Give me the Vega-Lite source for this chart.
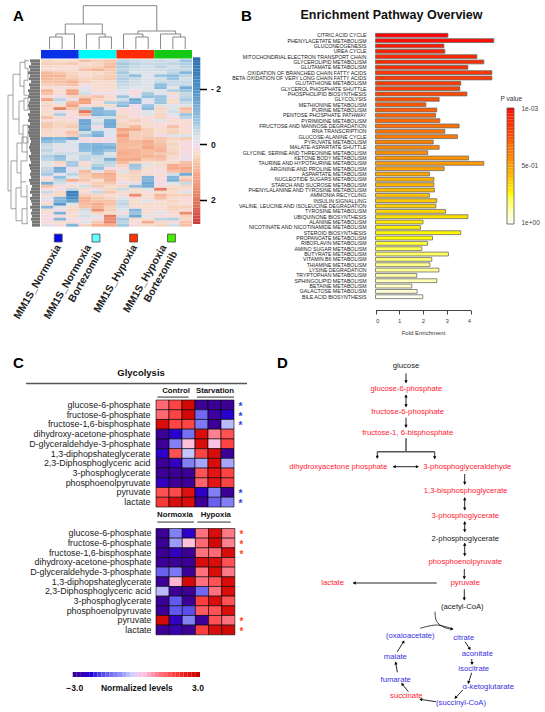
{"$schema":"https://vega.github.io/schema/vega-lite/v6.json","width":545,"height":712,"autosize":{"type":"none"},"padding":0,"background":"white",
"title":{"text":"Enrichment Pathway Overview","anchor":"middle","frame":"group","orient":"top","offset":-21,"dx":119,"fontSize":12.5,"fontWeight":"bold","font":"Liberation Sans","color":"#111"},
"config":{"font":"Liberation Sans","view":{"stroke":null},"axis":{"grid":false,"labelFont":"Liberation Sans","titleFont":"Liberation Sans"}},
"resolve":{"scale":{"x":"independent","y":"independent","color":"independent"}},
"datasets":{
"heatA":[
{"r":0,"c":1,"v":0.4},{"r":0,"c":2,"v":0.3},{"r":0,"c":3,"v":0.3},{"r":0,"c":4,"v":0.7},{"r":0,"c":5,"v":0.5},{"r":0,"c":6,"v":0.6},{"r":0,"c":7,"v":-0.6},{"r":0,"c":8,"v":-0.5},{"r":0,"c":9,"v":-0.4},{"r":0,"c":10,"v":-0.5},{"r":0,"c":11,"v":-0.4},{"r":0,"c":12,"v":-0.9},
{"r":1,"c":1,"v":0.5},{"r":1,"c":2,"v":0.5},{"r":1,"c":3,"v":0.6},{"r":1,"c":4,"v":0.3},{"r":1,"c":5,"v":0.4},{"r":1,"c":6,"v":0.7},{"r":1,"c":7,"v":-0.8},{"r":1,"c":8,"v":-0.6},{"r":1,"c":9,"v":-0.5},{"r":1,"c":10,"v":-0.5},{"r":1,"c":11,"v":-0.6},{"r":1,"c":12,"v":-0.7},
{"r":2,"c":1,"v":0.3},{"r":2,"c":2,"v":0.3},{"r":2,"c":3,"v":0.2},{"r":2,"c":4,"v":0.4},{"r":2,"c":5,"v":0.5},{"r":2,"c":6,"v":0.8},{"r":2,"c":7,"v":-0.7},{"r":2,"c":8,"v":-0.5},{"r":2,"c":9,"v":-0.4},{"r":2,"c":10,"v":-0.6},{"r":2,"c":11,"v":-0.4},{"r":2,"c":12,"v":-0.6},
{"r":3,"c":1,"v":0.2},{"r":3,"c":2,"v":0.2},{"r":3,"c":3,"v":0.3},{"r":3,"c":4,"v":0.7},{"r":3,"c":5,"v":0.9},{"r":3,"c":6,"v":0.6},{"r":3,"c":7,"v":-0.6},{"r":3,"c":8,"v":-0.4},{"r":3,"c":9,"v":-0.4},{"r":3,"c":10,"v":-0.4},{"r":3,"c":11,"v":-0.5},{"r":3,"c":12,"v":-0.5},
{"r":4,"c":1,"v":0.8},{"r":4,"c":2,"v":0.6},{"r":4,"c":3,"v":0.4},{"r":4,"c":4,"v":0.3},{"r":4,"c":5,"v":0.3},{"r":4,"c":6,"v":0.5},{"r":4,"c":7,"v":-0.8},{"r":4,"c":8,"v":-0.3},{"r":4,"c":9,"v":-0.3},{"r":4,"c":10,"v":-0.3},{"r":4,"c":11,"v":-0.6},{"r":4,"c":12,"v":-1.2},
{"r":5,"c":1,"v":0.9},{"r":5,"c":2,"v":0.9},{"r":5,"c":3,"v":0.5},{"r":5,"c":4,"v":0.2},{"r":5,"c":5,"v":0.4},{"r":5,"c":6,"v":0.5},{"r":5,"c":7,"v":-0.6},{"r":5,"c":8,"v":-1},{"r":5,"c":9,"v":-0.2},{"r":5,"c":10,"v":-0.9},{"r":5,"c":11,"v":-1},{"r":5,"c":12,"v":-0.6},
{"r":6,"c":1,"v":0.8},{"r":6,"c":2,"v":0.7},{"r":6,"c":3,"v":0.6},{"r":6,"c":4,"v":0.4},{"r":6,"c":5,"v":0.5},{"r":6,"c":6,"v":0.6},{"r":6,"c":7,"v":-0.7},{"r":6,"c":8,"v":-0.5},{"r":6,"c":9,"v":-0.2},{"r":6,"c":10,"v":-0.4},{"r":6,"c":11,"v":-0.9},{"r":6,"c":12,"v":-0.4},
{"r":7,"c":1,"v":0.7},{"r":7,"c":2,"v":0.7},{"r":7,"c":3,"v":0.9},{"r":7,"c":4,"v":0.5},{"r":7,"c":5,"v":0.3},{"r":7,"c":6,"v":0.3},{"r":7,"c":7,"v":-0.6},{"r":7,"c":8,"v":-0.4},{"r":7,"c":9,"v":-0.3},{"r":7,"c":10,"v":-0.5},{"r":7,"c":11,"v":-0.5},{"r":7,"c":12,"v":-0.5},
{"r":8,"c":1,"v":0.5},{"r":8,"c":2,"v":0.6},{"r":8,"c":3,"v":0.7},{"r":8,"c":4,"v":0.1},{"r":8,"c":5,"v":0.3},{"r":8,"c":6,"v":0.3},{"r":8,"c":7,"v":-0.5},{"r":8,"c":8,"v":-0.4},{"r":8,"c":9,"v":-0.3},{"r":8,"c":10,"v":-1},{"r":8,"c":11,"v":-0.5},{"r":8,"c":12,"v":-0.5},
{"r":9,"c":1,"v":0.2},{"r":9,"c":2,"v":0.1},{"r":9,"c":3,"v":0.3},{"r":9,"c":4,"v":-0.1},{"r":9,"c":5,"v":0.3},{"r":9,"c":6,"v":0.3},{"r":9,"c":7,"v":-0.4},{"r":9,"c":8,"v":-0.2},{"r":9,"c":9,"v":-0.3},{"r":9,"c":10,"v":-1.1},{"r":9,"c":11,"v":-0.3},{"r":9,"c":12,"v":-1.4},
{"r":10,"c":1,"v":0.9},{"r":10,"c":2,"v":0.3},{"r":10,"c":3,"v":1.1},{"r":10,"c":4,"v":-0.3},{"r":10,"c":5,"v":0.2},{"r":10,"c":6,"v":0.2},{"r":10,"c":7,"v":-0.2},{"r":10,"c":8,"v":0.1},{"r":10,"c":9,"v":-0.3},{"r":10,"c":10,"v":-0.3},{"r":10,"c":11,"v":-0.7},{"r":10,"c":12,"v":-0.9},
{"r":11,"c":1,"v":0.7},{"r":11,"c":2,"v":0.2},{"r":11,"c":3,"v":1.2},{"r":11,"c":4,"v":-0.4},{"r":11,"c":5,"v":0},{"r":11,"c":6,"v":0.1},{"r":11,"c":7,"v":-0.1},{"r":11,"c":8,"v":0.2},{"r":11,"c":9,"v":-0.8},{"r":11,"c":10,"v":-0.2},{"r":11,"c":11,"v":0.3},{"r":11,"c":12,"v":-0.5},
{"r":12,"c":1,"v":0.2},{"r":12,"c":2,"v":0},{"r":12,"c":3,"v":0.4},{"r":12,"c":4,"v":0.5},{"r":12,"c":5,"v":0.7},{"r":12,"c":6,"v":0.3},{"r":12,"c":7,"v":-0.9},{"r":12,"c":8,"v":-0.1},{"r":12,"c":9,"v":-1},{"r":12,"c":10,"v":-0.9},{"r":12,"c":11,"v":0},{"r":12,"c":12,"v":-0.6},
{"r":13,"c":1,"v":1.2},{"r":13,"c":2,"v":-0.6},{"r":13,"c":3,"v":0},{"r":13,"c":4,"v":1.3},{"r":13,"c":5,"v":0.4},{"r":13,"c":6,"v":0.3},{"r":13,"c":7,"v":-0.4},{"r":13,"c":8,"v":-1.4},{"r":13,"c":9,"v":-0.2},{"r":13,"c":10,"v":-0.9},{"r":13,"c":11,"v":0.3},{"r":13,"c":12,"v":-0.8},
{"r":14,"c":1,"v":0.3},{"r":14,"c":2,"v":-0.3},{"r":14,"c":3,"v":0.9},{"r":14,"c":4,"v":1.2},{"r":14,"c":5,"v":0.2},{"r":14,"c":6,"v":-0.7},{"r":14,"c":7,"v":-0.9},{"r":14,"c":8,"v":-1.3},{"r":14,"c":9,"v":-0.1},{"r":14,"c":10,"v":-0.9},{"r":14,"c":11,"v":0.3},{"r":14,"c":12,"v":-0.5},
{"r":15,"c":1,"v":0.4},{"r":15,"c":2,"v":0.3},{"r":15,"c":3,"v":1.2},{"r":15,"c":4,"v":0.2},{"r":15,"c":5,"v":0.3},{"r":15,"c":6,"v":0.3},{"r":15,"c":7,"v":-1.1},{"r":15,"c":8,"v":0},{"r":15,"c":9,"v":-0.9},{"r":15,"c":10,"v":-0.3},{"r":15,"c":11,"v":-0.2},{"r":15,"c":12,"v":-0.3},
{"r":16,"c":1,"v":0.2},{"r":16,"c":2,"v":1.8},{"r":16,"c":3,"v":0.6},{"r":16,"c":4,"v":-0.7},{"r":16,"c":5,"v":-1.2},{"r":16,"c":6,"v":-0.2},{"r":16,"c":7,"v":0.2},{"r":16,"c":8,"v":0.1},{"r":16,"c":9,"v":-1.1},{"r":16,"c":10,"v":0.4},{"r":16,"c":11,"v":-0.3},{"r":16,"c":12,"v":0.8},
{"r":17,"c":1,"v":0.3},{"r":17,"c":2,"v":0},{"r":17,"c":3,"v":0.2},{"r":17,"c":4,"v":2},{"r":17,"c":5,"v":-1.2},{"r":17,"c":6,"v":-1},{"r":17,"c":7,"v":0.2},{"r":17,"c":8,"v":0.2},{"r":17,"c":9,"v":-0.2},{"r":17,"c":10,"v":0.3},{"r":17,"c":11,"v":-0.4},{"r":17,"c":12,"v":0.6},
{"r":18,"c":1,"v":0.3},{"r":18,"c":2,"v":-0.7},{"r":18,"c":3,"v":0.2},{"r":18,"c":4,"v":0.8},{"r":18,"c":5,"v":-1.3},{"r":18,"c":6,"v":-1.1},{"r":18,"c":7,"v":0.3},{"r":18,"c":8,"v":0.1},{"r":18,"c":9,"v":-0.2},{"r":18,"c":10,"v":0.4},{"r":18,"c":11,"v":-0.2},{"r":18,"c":12,"v":-0.9},
{"r":19,"c":1,"v":0.7},{"r":19,"c":2,"v":0.2},{"r":19,"c":3,"v":0.1},{"r":19,"c":4,"v":0.1},{"r":19,"c":5,"v":-0.4},{"r":19,"c":6,"v":-0.4},{"r":19,"c":7,"v":0.4},{"r":19,"c":8,"v":0.2},{"r":19,"c":9,"v":0.2},{"r":19,"c":10,"v":0.4},{"r":19,"c":11,"v":0.1},{"r":19,"c":12,"v":-0.6},
{"r":20,"c":1,"v":0.2},{"r":20,"c":2,"v":0.3},{"r":20,"c":3,"v":0.2},{"r":20,"c":4,"v":-1.5},{"r":20,"c":5,"v":-0.3},{"r":20,"c":6,"v":-1.4},{"r":20,"c":7,"v":0.2},{"r":20,"c":8,"v":0.5},{"r":20,"c":9,"v":0.2},{"r":20,"c":10,"v":-0.2},{"r":20,"c":11,"v":0.3},{"r":20,"c":12,"v":0.2},
{"r":21,"c":1,"v":0.6},{"r":21,"c":2,"v":0.4},{"r":21,"c":3,"v":0.4},{"r":21,"c":4,"v":-1.5},{"r":21,"c":5,"v":-0.5},{"r":21,"c":6,"v":-1.5},{"r":21,"c":7,"v":0.4},{"r":21,"c":8,"v":0.3},{"r":21,"c":9,"v":0.3},{"r":21,"c":10,"v":0.2},{"r":21,"c":11,"v":0.2},{"r":21,"c":12,"v":0.3},
{"r":22,"c":1,"v":0.6},{"r":22,"c":2,"v":0.4},{"r":22,"c":3,"v":0.6},{"r":22,"c":4,"v":-1.3},{"r":22,"c":5,"v":0.1},{"r":22,"c":6,"v":-1.4},{"r":22,"c":7,"v":0.4},{"r":22,"c":8,"v":0.8},{"r":22,"c":9,"v":0.3},{"r":22,"c":10,"v":0.2},{"r":22,"c":11,"v":0.7},{"r":22,"c":12,"v":0.2},
{"r":23,"c":1,"v":0.4},{"r":23,"c":2,"v":0.3},{"r":23,"c":3,"v":0.3},{"r":23,"c":4,"v":-1.5},{"r":23,"c":5,"v":-0.3},{"r":23,"c":6,"v":-0.2},{"r":23,"c":7,"v":1.1},{"r":23,"c":8,"v":1},{"r":23,"c":9,"v":0.5},{"r":23,"c":10,"v":0.3},{"r":23,"c":11,"v":0.4},{"r":23,"c":12,"v":0.2},
{"r":24,"c":1,"v":0.3},{"r":24,"c":2,"v":0.2},{"r":24,"c":3,"v":0.7},{"r":24,"c":4,"v":-0.4},{"r":24,"c":5,"v":-1.1},{"r":24,"c":6,"v":-0.2},{"r":24,"c":7,"v":0.9},{"r":24,"c":8,"v":0.5},{"r":24,"c":9,"v":0.5},{"r":24,"c":10,"v":0.3},{"r":24,"c":11,"v":0.5},{"r":24,"c":12,"v":0.3},
{"r":25,"c":1,"v":0.3},{"r":25,"c":2,"v":0.3},{"r":25,"c":3,"v":0.5},{"r":25,"c":4,"v":-0.8},{"r":25,"c":5,"v":-1.3},{"r":25,"c":6,"v":-0.1},{"r":25,"c":7,"v":1.3},{"r":25,"c":8,"v":0.5},{"r":25,"c":9,"v":0.5},{"r":25,"c":10,"v":0.1},{"r":25,"c":11,"v":-0.2},{"r":25,"c":12,"v":-0.2},
{"r":26,"c":1,"v":-1.3},{"r":26,"c":2,"v":-1.2},{"r":26,"c":3,"v":-1.5},{"r":26,"c":4,"v":0.2},{"r":26,"c":5,"v":0.1},{"r":26,"c":6,"v":0},{"r":26,"c":7,"v":0.9},{"r":26,"c":8,"v":0.5},{"r":26,"c":9,"v":0.6},{"r":26,"c":10,"v":0.6},{"r":26,"c":11,"v":0.4},{"r":26,"c":12,"v":0.5},
{"r":27,"c":1,"v":-1},{"r":27,"c":2,"v":-0.9},{"r":27,"c":3,"v":-0.3},{"r":27,"c":4,"v":0},{"r":27,"c":5,"v":0.1},{"r":27,"c":6,"v":0},{"r":27,"c":7,"v":0.9},{"r":27,"c":8,"v":0.8},{"r":27,"c":9,"v":1},{"r":27,"c":10,"v":0.6},{"r":27,"c":11,"v":0.3},{"r":27,"c":12,"v":0.2},
{"r":28,"c":1,"v":-0.5},{"r":28,"c":2,"v":-0.3},{"r":28,"c":3,"v":-0.2},{"r":28,"c":4,"v":-1.1},{"r":28,"c":5,"v":-1.2},{"r":28,"c":6,"v":-1},{"r":28,"c":7,"v":0.8},{"r":28,"c":8,"v":0.8},{"r":28,"c":9,"v":0.9},{"r":28,"c":10,"v":0.7},{"r":28,"c":11,"v":0.4},{"r":28,"c":12,"v":0.1},
{"r":29,"c":1,"v":-0.4},{"r":29,"c":2,"v":-0.2},{"r":29,"c":3,"v":-0.3},{"r":29,"c":4,"v":-1.1},{"r":29,"c":5,"v":-1.3},{"r":29,"c":6,"v":-1.3},{"r":29,"c":7,"v":0.8},{"r":29,"c":8,"v":0.7},{"r":29,"c":9,"v":1.1},{"r":29,"c":10,"v":0.8},{"r":29,"c":11,"v":0.3},{"r":29,"c":12,"v":0.2},
{"r":30,"c":1,"v":-0.6},{"r":30,"c":2,"v":-0.1},{"r":30,"c":3,"v":-0.1},{"r":30,"c":4,"v":-1},{"r":30,"c":5,"v":-1.2},{"r":30,"c":6,"v":-0.9},{"r":30,"c":7,"v":0.9},{"r":30,"c":8,"v":0.9},{"r":30,"c":9,"v":0.8},{"r":30,"c":10,"v":0.9},{"r":30,"c":11,"v":0.4},{"r":30,"c":12,"v":0.1},
{"r":31,"c":1,"v":-0.4},{"r":31,"c":2,"v":-0.4},{"r":31,"c":3,"v":-0.4},{"r":31,"c":4,"v":-0.4},{"r":31,"c":5,"v":-1},{"r":31,"c":6,"v":-0.3},{"r":31,"c":7,"v":1},{"r":31,"c":8,"v":0.9},{"r":31,"c":9,"v":0.8},{"r":31,"c":10,"v":0.6},{"r":31,"c":11,"v":0.5},{"r":31,"c":12,"v":0.1},
{"r":32,"c":1,"v":-0.7},{"r":32,"c":2,"v":-1},{"r":32,"c":3,"v":-0.3},{"r":32,"c":4,"v":-0.6},{"r":32,"c":5,"v":-0.5},{"r":32,"c":6,"v":-0.4},{"r":32,"c":7,"v":0.9},{"r":32,"c":8,"v":0.9},{"r":32,"c":9,"v":0.9},{"r":32,"c":10,"v":0.8},{"r":32,"c":11,"v":0.3},{"r":32,"c":12,"v":0.1},
{"r":33,"c":1,"v":-0.6},{"r":33,"c":2,"v":-0.9},{"r":33,"c":3,"v":-0.3},{"r":33,"c":4,"v":-0.6},{"r":33,"c":5,"v":-0.4},{"r":33,"c":6,"v":-1.3},{"r":33,"c":7,"v":1},{"r":33,"c":8,"v":1.1},{"r":33,"c":9,"v":0.6},{"r":33,"c":10,"v":0.7},{"r":33,"c":11,"v":0.2},{"r":33,"c":12,"v":0},
{"r":34,"c":1,"v":-0.3},{"r":34,"c":2,"v":0.4},{"r":34,"c":3,"v":-0.8},{"r":34,"c":4,"v":0.2},{"r":34,"c":5,"v":-0.4},{"r":34,"c":6,"v":-0.6},{"r":34,"c":7,"v":0.8},{"r":34,"c":8,"v":0.4},{"r":34,"c":9,"v":0.3},{"r":34,"c":10,"v":0.3},{"r":34,"c":11,"v":0.3},{"r":34,"c":12,"v":0.7},
{"r":35,"c":1,"v":-0.3},{"r":35,"c":2,"v":0.2},{"r":35,"c":3,"v":-0.8},{"r":35,"c":4,"v":0.3},{"r":35,"c":5,"v":-0.7},{"r":35,"c":6,"v":-0.5},{"r":35,"c":7,"v":0.4},{"r":35,"c":8,"v":-0.9},{"r":35,"c":9,"v":-0.3},{"r":35,"c":10,"v":0.3},{"r":35,"c":11,"v":1},{"r":35,"c":12,"v":0.8},
{"r":36,"c":1,"v":-0.5},{"r":36,"c":2,"v":-1.4},{"r":36,"c":3,"v":0},{"r":36,"c":4,"v":-0.3},{"r":36,"c":5,"v":-1},{"r":36,"c":6,"v":0.1},{"r":36,"c":7,"v":0.2},{"r":36,"c":8,"v":-0.8},{"r":36,"c":9,"v":0.3},{"r":36,"c":10,"v":0.2},{"r":36,"c":11,"v":1},{"r":36,"c":12,"v":1.1},
{"r":37,"c":1,"v":-0.6},{"r":37,"c":2,"v":-1.3},{"r":37,"c":3,"v":-0.2},{"r":37,"c":4,"v":0.8},{"r":37,"c":5,"v":-0.3},{"r":37,"c":6,"v":0.7},{"r":37,"c":7,"v":-0.3},{"r":37,"c":8,"v":0.5},{"r":37,"c":9,"v":0.2},{"r":37,"c":10,"v":0.1},{"r":37,"c":11,"v":0.7},{"r":37,"c":12,"v":0.9},
{"r":38,"c":1,"v":-0.8},{"r":38,"c":2,"v":-0.1},{"r":38,"c":3,"v":-0.6},{"r":38,"c":4,"v":0.6},{"r":38,"c":5,"v":0.9},{"r":38,"c":6,"v":1},{"r":38,"c":7,"v":0.3},{"r":38,"c":8,"v":0.4},{"r":38,"c":9,"v":0.3},{"r":38,"c":10,"v":0.3},{"r":38,"c":11,"v":-0.4},{"r":38,"c":12,"v":-1.4},
{"r":39,"c":1,"v":0.1},{"r":39,"c":2,"v":-1},{"r":39,"c":3,"v":-0.3},{"r":39,"c":4,"v":0.5},{"r":39,"c":5,"v":0.8},{"r":39,"c":6,"v":0.9},{"r":39,"c":7,"v":0.3},{"r":39,"c":8,"v":0.4},{"r":39,"c":9,"v":-1.2},{"r":39,"c":10,"v":0.1},{"r":39,"c":11,"v":-1.2},{"r":39,"c":12,"v":0.4},
{"r":40,"c":1,"v":0.3},{"r":40,"c":2,"v":-0.6},{"r":40,"c":3,"v":1},{"r":40,"c":4,"v":0.6},{"r":40,"c":5,"v":0.3},{"r":40,"c":6,"v":0.9},{"r":40,"c":7,"v":0.2},{"r":40,"c":8,"v":0.4},{"r":40,"c":9,"v":-1.2},{"r":40,"c":10,"v":0.2},{"r":40,"c":11,"v":-1.3},{"r":40,"c":12,"v":0.7},
{"r":41,"c":1,"v":-1.3},{"r":41,"c":2,"v":-0.4},{"r":41,"c":3,"v":0},{"r":41,"c":4,"v":0.2},{"r":41,"c":5,"v":0.5},{"r":41,"c":6,"v":0.6},{"r":41,"c":7,"v":0},{"r":41,"c":8,"v":0},{"r":41,"c":9,"v":-1.5},{"r":41,"c":10,"v":0},{"r":41,"c":11,"v":-0.3},{"r":41,"c":12,"v":-0.5},
{"r":42,"c":1,"v":0.7},{"r":42,"c":2,"v":0.2},{"r":42,"c":3,"v":0.3},{"r":42,"c":4,"v":-0.4},{"r":42,"c":5,"v":0.6},{"r":42,"c":6,"v":0.3},{"r":42,"c":7,"v":0.4},{"r":42,"c":8,"v":-1},{"r":42,"c":9,"v":-1.4},{"r":42,"c":10,"v":0.1},{"r":42,"c":11,"v":0.3},{"r":42,"c":12,"v":0.4},
{"r":43,"c":1,"v":0.2},{"r":43,"c":2,"v":0},{"r":43,"c":3,"v":-0.5},{"r":43,"c":4,"v":0.3},{"r":43,"c":5,"v":0},{"r":43,"c":6,"v":0.4},{"r":43,"c":7,"v":-0.5},{"r":43,"c":8,"v":0.3},{"r":43,"c":9,"v":-0.3},{"r":43,"c":10,"v":1.9},{"r":43,"c":11,"v":0.4},{"r":43,"c":12,"v":0.2},
{"r":44,"c":1,"v":-0.5},{"r":44,"c":2,"v":0.4},{"r":44,"c":3,"v":-2.6},{"r":44,"c":4,"v":0.2},{"r":44,"c":5,"v":-0.5},{"r":44,"c":6,"v":0.6},{"r":44,"c":7,"v":0.3},{"r":44,"c":8,"v":0.3},{"r":44,"c":9,"v":0.2},{"r":44,"c":10,"v":0.3},{"r":44,"c":11,"v":0.3},{"r":44,"c":12,"v":-0.2},
{"r":45,"c":1,"v":0.2},{"r":45,"c":2,"v":0.3},{"r":45,"c":3,"v":-2.4},{"r":45,"c":4,"v":0.5},{"r":45,"c":5,"v":0.4},{"r":45,"c":6,"v":0.2},{"r":45,"c":7,"v":0.2},{"r":45,"c":8,"v":1.6},{"r":45,"c":9,"v":0.3},{"r":45,"c":10,"v":0.9},{"r":45,"c":11,"v":0.5},{"r":45,"c":12,"v":0.5},
{"r":46,"c":1,"v":-0.2},{"r":46,"c":2,"v":-1.2},{"r":46,"c":3,"v":-2},{"r":46,"c":4,"v":0.9},{"r":46,"c":5,"v":0.6},{"r":46,"c":6,"v":0.4},{"r":46,"c":7,"v":-0.3},{"r":46,"c":8,"v":0.2},{"r":46,"c":9,"v":0.2},{"r":46,"c":10,"v":0.7},{"r":46,"c":11,"v":0.3},{"r":46,"c":12,"v":0.2},
{"r":47,"c":1,"v":0.1},{"r":47,"c":2,"v":-1.2},{"r":47,"c":3,"v":-1.6},{"r":47,"c":4,"v":0.9},{"r":47,"c":5,"v":0.7},{"r":47,"c":6,"v":0.7},{"r":47,"c":7,"v":-0.5},{"r":47,"c":8,"v":0.3},{"r":47,"c":9,"v":-0.2},{"r":47,"c":10,"v":0.2},{"r":47,"c":11,"v":0.4},{"r":47,"c":12,"v":0.2},
{"r":48,"c":1,"v":0.3},{"r":48,"c":2,"v":-1.8},{"r":48,"c":3,"v":-0.3},{"r":48,"c":4,"v":0.8},{"r":48,"c":5,"v":1},{"r":48,"c":6,"v":0.7},{"r":48,"c":7,"v":-0.6},{"r":48,"c":8,"v":0.3},{"r":48,"c":9,"v":0.3},{"r":48,"c":10,"v":0.3},{"r":48,"c":11,"v":0.3},{"r":48,"c":12,"v":0.2},
{"r":49,"c":1,"v":-1.2},{"r":49,"c":2,"v":-0.2},{"r":49,"c":3,"v":0.3},{"r":49,"c":4,"v":0.7},{"r":49,"c":5,"v":0.9},{"r":49,"c":6,"v":0.5},{"r":49,"c":7,"v":-0.4},{"r":49,"c":8,"v":0.2},{"r":49,"c":9,"v":0.3},{"r":49,"c":10,"v":0.2},{"r":49,"c":11,"v":0.5},{"r":49,"c":12,"v":0.5},
{"r":50,"c":1,"v":0.3},{"r":50,"c":2,"v":0.1},{"r":50,"c":3,"v":0.4},{"r":50,"c":4,"v":-0.4},{"r":50,"c":5,"v":1.5},{"r":50,"c":6,"v":0.5},{"r":50,"c":7,"v":-0.3},{"r":50,"c":8,"v":-1.2},{"r":50,"c":9,"v":0.2},{"r":50,"c":10,"v":0.2},{"r":50,"c":11,"v":0.4},{"r":50,"c":12,"v":0.2},
{"r":51,"c":1,"v":0.2},{"r":51,"c":2,"v":-1.3},{"r":51,"c":3,"v":0.2},{"r":51,"c":4,"v":-0.3},{"r":51,"c":5,"v":0.4},{"r":51,"c":6,"v":0.3},{"r":51,"c":7,"v":0.2},{"r":51,"c":8,"v":-0.9},{"r":51,"c":9,"v":0.3},{"r":51,"c":10,"v":-0.2},{"r":51,"c":11,"v":0.2},{"r":51,"c":12,"v":1.6},
{"r":52,"c":1,"v":0.1},{"r":52,"c":2,"v":0.2},{"r":52,"c":3,"v":0.3},{"r":52,"c":4,"v":-0.4},{"r":52,"c":5,"v":-0.3},{"r":52,"c":6,"v":1.9},{"r":52,"c":7,"v":-0.4},{"r":52,"c":8,"v":-1.5},{"r":52,"c":9,"v":-0.2},{"r":52,"c":10,"v":0.2},{"r":52,"c":11,"v":0.2},{"r":52,"c":12,"v":0.5},
{"r":53,"c":1,"v":0.1},{"r":53,"c":2,"v":-1.2},{"r":53,"c":3,"v":0.1},{"r":53,"c":4,"v":0},{"r":53,"c":5,"v":0.1},{"r":53,"c":6,"v":1.6},{"r":53,"c":7,"v":-0.8},{"r":53,"c":8,"v":0.3},{"r":53,"c":9,"v":0.3},{"r":53,"c":10,"v":-0.6},{"r":53,"c":11,"v":-0.7},{"r":53,"c":12,"v":0.4},
{"r":54,"c":1,"v":0.2},{"r":54,"c":2,"v":0.3},{"r":54,"c":3,"v":0.2},{"r":54,"c":4,"v":-0.3},{"r":54,"c":5,"v":0.6},{"r":54,"c":6,"v":1.7},{"r":54,"c":7,"v":-0.6},{"r":54,"c":8,"v":0.2},{"r":54,"c":9,"v":1},{"r":54,"c":10,"v":0.4},{"r":54,"c":11,"v":0.2},{"r":54,"c":12,"v":0.7},
{"r":55,"c":1,"v":-0.2},{"r":55,"c":2,"v":0.2},{"r":55,"c":3,"v":-1.2},{"r":55,"c":4,"v":0.4},{"r":55,"c":5,"v":0.9},{"r":55,"c":6,"v":1},{"r":55,"c":7,"v":-0.8},{"r":55,"c":8,"v":0.2},{"r":55,"c":9,"v":0.3},{"r":55,"c":10,"v":0.4},{"r":55,"c":11,"v":-0.4},{"r":55,"c":12,"v":0.7}
],
"heatC1":[
{"m":"glucose-6-phosphate","c":1,"v":1.3},{"m":"glucose-6-phosphate","c":2,"v":1.8},{"m":"glucose-6-phosphate","c":3,"v":2.8},{"m":"glucose-6-phosphate","c":4,"v":-3},{"m":"glucose-6-phosphate","c":5,"v":-3},{"m":"glucose-6-phosphate","c":6,"v":-3},
{"m":"fructose-6-phosphate","c":1,"v":1.3},{"m":"fructose-6-phosphate","c":2,"v":1.8},{"m":"fructose-6-phosphate","c":3,"v":2.8},{"m":"fructose-6-phosphate","c":4,"v":-1.3},{"m":"fructose-6-phosphate","c":5,"v":-2.9},{"m":"fructose-6-phosphate","c":6,"v":-2.3},
{"m":"fructose-1,6-bisphosphate","c":1,"v":2.7},{"m":"fructose-1,6-bisphosphate","c":2,"v":1.8},{"m":"fructose-1,6-bisphosphate","c":3,"v":1.8},{"m":"fructose-1,6-bisphosphate","c":4,"v":-1.1},{"m":"fructose-1,6-bisphosphate","c":5,"v":-3},{"m":"fructose-1,6-bisphosphate","c":6,"v":-0.4},
{"m":"dihydroxy-acetone-phosphate","c":1,"v":-3},{"m":"dihydroxy-acetone-phosphate","c":2,"v":-2.3},{"m":"dihydroxy-acetone-phosphate","c":3,"v":-1.2},{"m":"dihydroxy-acetone-phosphate","c":4,"v":2.7},{"m":"dihydroxy-acetone-phosphate","c":5,"v":1},{"m":"dihydroxy-acetone-phosphate","c":6,"v":1.6},
{"m":"D-glyceraldehdye-3-phosphate","c":1,"v":-3},{"m":"D-glyceraldehdye-3-phosphate","c":2,"v":-1},{"m":"D-glyceraldehdye-3-phosphate","c":3,"v":0.4},{"m":"D-glyceraldehdye-3-phosphate","c":4,"v":2.7},{"m":"D-glyceraldehdye-3-phosphate","c":5,"v":0.3},{"m":"D-glyceraldehdye-3-phosphate","c":6,"v":1.8},
{"m":"1,3-diphopshateglycerate","c":1,"v":-2.4},{"m":"1,3-diphopshateglycerate","c":2,"v":1.6},{"m":"1,3-diphopshateglycerate","c":3,"v":-0.3},{"m":"1,3-diphopshateglycerate","c":4,"v":1.8},{"m":"1,3-diphopshateglycerate","c":5,"v":2.7},{"m":"1,3-diphopshateglycerate","c":6,"v":-3},
{"m":"2,3-Diphosphoglyceric acid","c":1,"v":-3},{"m":"2,3-Diphosphoglyceric acid","c":2,"v":-2.5},{"m":"2,3-Diphosphoglyceric acid","c":3,"v":-1},{"m":"2,3-Diphosphoglyceric acid","c":4,"v":-0.6},{"m":"2,3-Diphosphoglyceric acid","c":5,"v":2.7},{"m":"2,3-Diphosphoglyceric acid","c":6,"v":-0.6},
{"m":"3-phosphoglycerate","c":1,"v":-3},{"m":"3-phosphoglycerate","c":2,"v":-3},{"m":"3-phosphoglycerate","c":3,"v":-3},{"m":"3-phosphoglycerate","c":4,"v":1.6},{"m":"3-phosphoglycerate","c":5,"v":2.5},{"m":"3-phosphoglycerate","c":6,"v":1.8},
{"m":"phosphoenolpyruvate","c":1,"v":-2.5},{"m":"phosphoenolpyruvate","c":2,"v":-3},{"m":"phosphoenolpyruvate","c":3,"v":-3},{"m":"phosphoenolpyruvate","c":4,"v":1.4},{"m":"phosphoenolpyruvate","c":5,"v":2.5},{"m":"phosphoenolpyruvate","c":6,"v":1.8},
{"m":"pyruvate","c":1,"v":1.6},{"m":"pyruvate","c":2,"v":1.7},{"m":"pyruvate","c":3,"v":2.6},{"m":"pyruvate","c":4,"v":-2.4},{"m":"pyruvate","c":5,"v":-1},{"m":"pyruvate","c":6,"v":-3},
{"m":"lactate","c":1,"v":2},{"m":"lactate","c":2,"v":2.7},{"m":"lactate","c":3,"v":2.7},{"m":"lactate","c":4,"v":-3},{"m":"lactate","c":5,"v":-1.4},{"m":"lactate","c":6,"v":-1}
],
"heatC2":[
{"m":"glucose-6-phosphate","c":1,"v":-3},{"m":"glucose-6-phosphate","c":2,"v":-1},{"m":"glucose-6-phosphate","c":3,"v":-2.4},{"m":"glucose-6-phosphate","c":4,"v":1.2},{"m":"glucose-6-phosphate","c":5,"v":2.7},{"m":"glucose-6-phosphate","c":6,"v":1.1},
{"m":"fructose-6-phosphate","c":1,"v":-3},{"m":"fructose-6-phosphate","c":2,"v":-0.7},{"m":"fructose-6-phosphate","c":3,"v":0.4},{"m":"fructose-6-phosphate","c":4,"v":1.3},{"m":"fructose-6-phosphate","c":5,"v":2.8},{"m":"fructose-6-phosphate","c":6,"v":1},
{"m":"fructose-1,6-bisphosphate","c":1,"v":-3},{"m":"fructose-1,6-bisphosphate","c":2,"v":-2.5},{"m":"fructose-1,6-bisphosphate","c":3,"v":-3},{"m":"fructose-1,6-bisphosphate","c":4,"v":1.2},{"m":"fructose-1,6-bisphosphate","c":5,"v":1.3},{"m":"fructose-1,6-bisphosphate","c":6,"v":2.7},
{"m":"dihydroxy-acetone-phosphate","c":1,"v":-3},{"m":"dihydroxy-acetone-phosphate","c":2,"v":-3},{"m":"dihydroxy-acetone-phosphate","c":3,"v":-3},{"m":"dihydroxy-acetone-phosphate","c":4,"v":2.7},{"m":"dihydroxy-acetone-phosphate","c":5,"v":2.7},{"m":"dihydroxy-acetone-phosphate","c":6,"v":1.6},
{"m":"D-glyceraldehyde-3-phosphate","c":1,"v":-1.4},{"m":"D-glyceraldehyde-3-phosphate","c":2,"v":-1.1},{"m":"D-glyceraldehyde-3-phosphate","c":3,"v":-3},{"m":"D-glyceraldehyde-3-phosphate","c":4,"v":1.2},{"m":"D-glyceraldehyde-3-phosphate","c":5,"v":2.7},{"m":"D-glyceraldehyde-3-phosphate","c":6,"v":1.1},
{"m":"1,3-diphopshateglycerate","c":1,"v":-3},{"m":"1,3-diphopshateglycerate","c":2,"v":0.5},{"m":"1,3-diphopshateglycerate","c":3,"v":2.8},{"m":"1,3-diphopshateglycerate","c":4,"v":1.2},{"m":"1,3-diphopshateglycerate","c":5,"v":1.6},{"m":"1,3-diphopshateglycerate","c":6,"v":2.7},
{"m":"2,3-Diphosphoglyceric acid","c":1,"v":-0.4},{"m":"2,3-Diphosphoglyceric acid","c":2,"v":-3},{"m":"2,3-Diphosphoglyceric acid","c":3,"v":-3},{"m":"2,3-Diphosphoglyceric acid","c":4,"v":-1.3},{"m":"2,3-Diphosphoglyceric acid","c":5,"v":1.2},{"m":"2,3-Diphosphoglyceric acid","c":6,"v":2.7},
{"m":"3-phosphoglycerate","c":1,"v":-3},{"m":"3-phosphoglycerate","c":2,"v":-1.5},{"m":"3-phosphoglycerate","c":3,"v":-3},{"m":"3-phosphoglycerate","c":4,"v":1.9},{"m":"3-phosphoglycerate","c":5,"v":2.7},{"m":"3-phosphoglycerate","c":6,"v":1.6},
{"m":"phosphoenolpyruvate","c":1,"v":-3},{"m":"phosphoenolpyruvate","c":2,"v":-1.5},{"m":"phosphoenolpyruvate","c":3,"v":-1.6},{"m":"phosphoenolpyruvate","c":4,"v":1.5},{"m":"phosphoenolpyruvate","c":5,"v":1.6},{"m":"phosphoenolpyruvate","c":6,"v":2.7},
{"m":"pyruvate","c":1,"v":2.8},{"m":"pyruvate","c":2,"v":-2.5},{"m":"pyruvate","c":3,"v":-1},{"m":"pyruvate","c":4,"v":-3},{"m":"pyruvate","c":5,"v":1.6},{"m":"pyruvate","c":6,"v":1.2},
{"m":"lactate","c":1,"v":-3},{"m":"lactate","c":2,"v":-2.7},{"m":"lactate","c":3,"v":-3},{"m":"lactate","c":4,"v":1.9},{"m":"lactate","c":5,"v":2.7},{"m":"lactate","c":6,"v":2.8}
]
},
"layer":[
{"data":{"values":[{"a":1.18,"b":1.18,"u":0,"w":12},{"a":2.18,"b":2.18,"u":0,"w":12},{"a":1.18,"b":2.18,"u":12,"w":12},{"a":1.68,"b":1.68,"u":12,"w":15},{"a":3.16,"b":3.16,"u":0,"w":15},{"a":1.68,"b":3.16,"u":15,"w":15},{"a":5.12,"b":5.12,"u":0,"w":12},{"a":6.1,"b":6.1,"u":0,"w":12},{"a":5.12,"b":6.1,"u":12,"w":12},{"a":4.11,"b":4.11,"u":0,"w":15},{"a":5.6,"b":5.6,"u":12,"w":15},{"a":4.11,"b":5.6,"u":15,"w":15},{"a":2.43,"b":2.43,"u":15,"w":25},{"a":5.37,"b":5.37,"u":15,"w":25},{"a":2.43,"b":5.37,"u":25,"w":25},{"a":3.86,"b":3.86,"u":25,"w":43.3},{"a":3.86,"b":9.7,"u":43.3,"w":43.3},{"a":9.7,"b":9.7,"u":18,"w":43.3},{"a":8.2,"b":11.2,"u":18,"w":18},{"a":8.2,"b":8.2,"u":15,"w":18},{"a":11.2,"b":11.2,"u":15,"w":18},{"a":7.06,"b":8.6,"u":15,"w":15},{"a":7.06,"b":7.06,"u":0,"w":15},{"a":8.04,"b":9.02,"u":12,"w":12},{"a":8.04,"b":8.04,"u":0,"w":12},{"a":9.02,"b":9.02,"u":0,"w":12},{"a":8.6,"b":8.6,"u":12,"w":15},{"a":10,"b":11.6,"u":15,"w":15},{"a":10,"b":10,"u":0,"w":15},{"a":10.98,"b":11.96,"u":12,"w":12},{"a":10.98,"b":10.98,"u":0,"w":12},{"a":11.96,"b":11.96,"u":0,"w":12},{"a":11.6,"b":11.6,"u":12,"w":15}]},
"mark":{"type":"rule","color":"#7a7a7a","strokeWidth":0.9},
"encoding":{"x":{"field":"a","type":"quantitative","scale":{"domain":[0.5,12.5],"range":[41,192]},"axis":null},"x2":{"field":"b"},"y":{"field":"u","type":"quantitative","scale":{"domain":[0,44],"range":[49,5]},"axis":null},"y2":{"field":"w"}}},
{"data":{"values":[{"group":"MM1S_Normoxia"},{"group":"MM1S_Normoxia Bortezomib"},{"group":"MM1S_Hypoxia"},{"group":"MM1S_Hypoxia Bortezomib"}]},
"mark":{"type":"rect"},
"encoding":{"x":{"field":"group","type":"nominal","sort":null,"scale":{"range":[41,192],"paddingInner":0,"paddingOuter":0},"axis":null},"y":{"datum":"strip","type":"nominal","scale":{"range":[50,58.5],"paddingInner":0,"paddingOuter":0},"axis":null},"color":{"field":"group","type":"nominal","legend":null,"scale":{"domain":["MM1S_Normoxia","MM1S_Normoxia Bortezomib","MM1S_Hypoxia","MM1S_Hypoxia Bortezomib"],"range":["#0a30e6","#00fafa","#ff2a00","#14c814"]}}}},
{"data":{"values":[{"d1":0,"d2":0,"r1":12,"r2":44},{"d1":0,"d2":5,"r1":12,"r2":12},{"d1":0,"d2":3,"r1":44,"r2":44},{"d1":5,"d2":5,"r1":5,"r2":20},{"d1":5,"d2":12,"r1":5,"r2":5},{"d1":5,"d2":11,"r1":20,"r2":20},{"d1":12,"d2":12,"r1":1,"r2":9},{"d1":12,"d2":17,"r1":1,"r2":1},{"d1":12,"d2":16,"r1":9,"r2":9},{"d1":17,"d2":17,"r1":0,"r2":3},{"d1":16,"d2":16,"r1":7,"r2":12},{"d1":11,"d2":11,"r1":14,"r2":25},{"d1":11,"d2":16,"r1":14,"r2":14},{"d1":11,"d2":15,"r1":25,"r2":25},{"d1":16,"d2":16,"r1":13,"r2":17},{"d1":15,"d2":15,"r1":22,"r2":28},{"d1":3,"d2":3,"r1":34,"r2":50},{"d1":3,"d2":9,"r1":34,"r2":34},{"d1":3,"d2":8,"r1":50,"r2":50},{"d1":9,"d2":9,"r1":28,"r2":38},{"d1":9,"d2":14,"r1":28,"r2":28},{"d1":9,"d2":13,"r1":38,"r2":38},{"d1":14,"d2":14,"r1":26,"r2":31},{"d1":13,"d2":13,"r1":34,"r2":41},{"d1":8,"d2":8,"r1":43,"r2":54},{"d1":8,"d2":13,"r1":43,"r2":43},{"d1":8,"d2":14,"r1":54,"r2":54},{"d1":13,"d2":13,"r1":41,"r2":46},{"d1":14,"d2":14,"r1":50,"r2":55},{"d1":17,"d2":21,"r1":0.5,"r2":0.5},{"d1":17,"d2":20,"r1":3,"r2":3},{"d1":16,"d2":20,"r1":7,"r2":7},{"d1":16,"d2":20,"r1":12,"r2":12},{"d1":16,"d2":20,"r1":13,"r2":13},{"d1":16,"d2":21,"r1":17,"r2":17},{"d1":15,"d2":20,"r1":22,"r2":22},{"d1":15,"d2":20,"r1":28,"r2":28},{"d1":14,"d2":19,"r1":26,"r2":26},{"d1":14,"d2":20,"r1":31,"r2":31},{"d1":13,"d2":19,"r1":34,"r2":34},{"d1":13,"d2":18,"r1":41,"r2":41},{"d1":13,"d2":19,"r1":46,"r2":46},{"d1":14,"d2":19,"r1":50,"r2":50},{"d1":14,"d2":20,"r1":55,"r2":55},{"d1":20,"d2":20,"r1":3,"r2":7},{"d1":20,"d2":20,"r1":13,"r2":17},{"d1":20,"d2":20,"r1":22,"r2":28},{"d1":19,"d2":19,"r1":26,"r2":34},{"d1":19,"d2":19,"r1":42,"r2":50},{"d1":19,"d2":19,"r1":50,"r2":55}]},
"mark":{"type":"rule","color":"#8a8a8a","strokeWidth":0.8},
"encoding":{"x":{"field":"d1","type":"quantitative","scale":{"domain":[0,32],"range":[8,40]},"axis":null},"x2":{"field":"d2"},"y":{"field":"r1","type":"quantitative","scale":{"domain":[0,56],"range":[59.3,226.7]},"axis":null},"y2":{"field":"r2"}}},
{"data":{"values":[{"r":0.5,"d":22},{"r":1.5,"d":23},{"r":2.5,"d":21},{"r":3.5,"d":22},{"r":4.5,"d":20},{"r":5.5,"d":22},{"r":6.5,"d":21},{"r":7.5,"d":23},{"r":8.5,"d":21},{"r":9.5,"d":22},{"r":10.5,"d":20},{"r":11.5,"d":21},{"r":12.5,"d":20},{"r":13.5,"d":22},{"r":14.5,"d":21},{"r":15.5,"d":20},{"r":16.5,"d":21},{"r":17.5,"d":22},{"r":18.5,"d":20},{"r":19.5,"d":21},{"r":20.5,"d":20},{"r":21.5,"d":22},{"r":22.5,"d":20},{"r":23.5,"d":21},{"r":24.5,"d":20},{"r":25.5,"d":21},{"r":26.5,"d":22},{"r":27.5,"d":23},{"r":28.5,"d":22},{"r":29.5,"d":21},{"r":30.5,"d":22},{"r":31.5,"d":23},{"r":32.5,"d":21},{"r":33.5,"d":22},{"r":34.5,"d":23},{"r":35.5,"d":21},{"r":36.5,"d":22},{"r":37.5,"d":23},{"r":38.5,"d":22},{"r":39.5,"d":23},{"r":40.5,"d":21},{"r":41.5,"d":22},{"r":42.5,"d":24},{"r":43.5,"d":23},{"r":44.5,"d":22},{"r":45.5,"d":24},{"r":46.5,"d":22},{"r":47.5,"d":23},{"r":48.5,"d":24},{"r":49.5,"d":22},{"r":50.5,"d":24},{"r":51.5,"d":23},{"r":52.5,"d":24},{"r":53.5,"d":23},{"r":54.5,"d":24},{"r":55.5,"d":24}]},
"mark":{"type":"rule","color":"#767676","strokeWidth":2.9},
"encoding":{"x":{"field":"d","type":"quantitative","scale":{"domain":[0,32],"range":[8,40]},"axis":null},"x2":{"datum":32},"y":{"field":"r","type":"quantitative","scale":{"domain":[0,56],"range":[59.3,226.7]},"axis":null}}},
{"data":{"name":"heatA"},"mark":{"type":"rect"},
"encoding":{"x":{"field":"c","type":"ordinal","scale":{"range":[41,192],"paddingInner":0,"paddingOuter":0},"axis":null},"y":{"field":"r","type":"ordinal","scale":{"range":[59.3,226.7],"paddingInner":0,"paddingOuter":0},"axis":null},"color":{"field":"v","type":"quantitative","legend":null,"scale":{"domain":[-3.1,-2,-1,-0.3,0.3,1,2,2.8],"range":["#2e6fae","#4c90c6","#8fbfe0","#dde3e7","#f6dccd","#f6ac8c","#e4775c","#c93a3a"]}}}},
{"data":{"values":[{"v":-3.1},{"v":-3},{"v":-2.9},{"v":-2.8},{"v":-2.7},{"v":-2.6},{"v":-2.5},{"v":-2.4},{"v":-2.3},{"v":-2.2},{"v":-2.1},{"v":-2},{"v":-1.9},{"v":-1.8},{"v":-1.7},{"v":-1.6},{"v":-1.5},{"v":-1.4},{"v":-1.3},{"v":-1.2},{"v":-1.1},{"v":-1},{"v":-0.9},{"v":-0.8},{"v":-0.7},{"v":-0.6},{"v":-0.5},{"v":-0.4},{"v":-0.3},{"v":-0.2},{"v":-0.1},{"v":0},{"v":0.1},{"v":0.2},{"v":0.3},{"v":0.4},{"v":0.5},{"v":0.6},{"v":0.7},{"v":0.8},{"v":0.9},{"v":1},{"v":1.1},{"v":1.2},{"v":1.3},{"v":1.4},{"v":1.5},{"v":1.6},{"v":1.7},{"v":1.8},{"v":1.9},{"v":2},{"v":2.1},{"v":2.2},{"v":2.3},{"v":2.4},{"v":2.5},{"v":2.6},{"v":2.7},{"v":2.8}]},
"mark":{"type":"rect"},
"encoding":{"x":{"datum":"bar","type":"nominal","scale":{"range":[193,200.3],"paddingInner":0,"paddingOuter":0},"axis":null},"y":{"field":"v","type":"ordinal","scale":{"range":[57.3,224],"paddingInner":0,"paddingOuter":0},"axis":{"orient":"right","offset":-345.5,"title":null,"values":[-2,0,2],"domain":false,"tickColor":"#000","tickWidth":1.5,"tickSize":7,"labelPadding":4,"labelFontSize":8.5,"labelFontWeight":"bold","labelColor":"#111","labelExpr":"datum.value<0?'- 2':datum.value+''"}},"color":{"field":"v","type":"quantitative","legend":null,"scale":{"domain":[-3.1,-2,-1,-0.3,0.3,1,2,2.8],"range":["#2e6fae","#4c90c6","#8fbfe0","#dde3e7","#f6dccd","#f6ac8c","#e4775c","#c93a3a"]}}}},
{"data":{"values":[{"group":"MM1S_Normoxia","c":1.87,"row":59.8},{"group":"MM1S_Normoxia Bortezomib","c":4.87,"row":59.8},{"group":"MM1S_Hypoxia","c":7.86,"row":59.8},{"group":"MM1S_Hypoxia Bortezomib","c":10.87,"row":59.8}]},
"mark":{"type":"point","shape":"square","filled":true,"size":62,"stroke":"#444","strokeWidth":0.8,"opacity":1},
"encoding":{"x":{"field":"c","type":"quantitative","scale":{"domain":[0.5,12.5],"range":[41,192]},"axis":null},"y":{"field":"row","type":"quantitative","scale":{"domain":[0,56],"range":[59.3,226.7]},"axis":null},"fill":{"field":"group","type":"nominal","legend":null,"scale":{"domain":["MM1S_Normoxia","MM1S_Normoxia Bortezomib","MM1S_Hypoxia","MM1S_Hypoxia Bortezomib"],"range":["#0808f0","#66ffff","#ff3300","#44ee00"]}}}},
{"data":{"values":[{"label":"MM1S_Normoxia","c":1.9,"row":62.4},{"label":"MM1S_Normoxia|Bortezomib","c":4.3,"row":62.4},{"label":"MM1S_Hypoxia","c":7.95,"row":62.4},{"label":"MM1S_Hypoxia|Bortezomib","c":10.3,"row":62.4}]},
"mark":{"type":"text","align":"right","baseline":"middle","angle":300,"fontSize":10.4,"fontWeight":"bold","color":"#222","lineBreak":"|","lineHeight":12.5},
"encoding":{"text":{"field":"label"},"x":{"field":"c","type":"quantitative","scale":{"domain":[0.5,12.5],"range":[41,192]},"axis":null},"y":{"field":"row","type":"quantitative","scale":{"domain":[0,56],"range":[59.3,226.7]},"axis":null}}},
{"data":{"values":[{"panel":"A","col":0,"row":0},{"panel":"B","col":1,"row":0},{"panel":"C","col":0,"row":1},{"panel":"D","col":1.158,"row":1}]},
"mark":{"type":"text","align":"left","baseline":"alphabetic","fontSize":15,"fontWeight":"bold","color":"#000"},
"encoding":{"text":{"field":"panel"},"x":{"field":"col","type":"quantitative","scale":{"domain":[0,1],"range":[13,241]},"axis":null},"y":{"field":"row","type":"quantitative","scale":{"domain":[0,1],"range":[21,368]},"axis":null}}},
{"data":{"values":[
{"p":"CITRIC ACID CYCLE","f":3.05,"l":0},{"p":"PHENYLACETATE METABOLISM","f":4.98,"l":0.02},{"p":"GLUCONEOGENESIS","f":2.88,"l":0.04},{"p":"UREA CYCLE","f":2.92,"l":0.06},{"p":"MITOCHONDRIAL ELECTRON TRANSPORT CHAIN","f":4.27,"l":0.08},{"p":"GLYCEROLIPID METABOLISM","f":4.56,"l":0.1},{"p":"GLUTAMATE METABOLISM","f":3.89,"l":0.12},{"p":"OXIDATION OF BRANCHED CHAIN FATTY ACIDS","f":4.9,"l":0.14},{"p":"BETA OXIDATION OF VERY LONG CHAIN FATTY ACIDS","f":4.9,"l":0.16},{"p":"GLUTATHIONE METABOLISM","f":3.59,"l":0.18},{"p":"GLYCEROL PHOSPHATE SHUTTLE","f":3.55,"l":0.2},{"p":"PHOSPHOLIPID BIOSYNTHESIS","f":3.85,"l":0.22},{"p":"GLYCOLYSIS","f":2.68,"l":0.24},{"p":"METHIONINE METABOLISM","f":2.12,"l":0.26},{"p":"PURINE METABOLISM","f":2.58,"l":0.28},{"p":"PENTOSE PHOSPHATE PATHWAY","f":2.53,"l":0.3},{"p":"PYRIMIDINE METABOLISM","f":2.71,"l":0.32},{"p":"FRUCTOSE AND MANNOSE DEGRADATION","f":3.52,"l":0.34},{"p":"RNA TRANSCRIPTION","f":2.92,"l":0.36},{"p":"GLUCOSE-ALANINE CYCLE","f":3.45,"l":0.38},{"p":"PYRUVATE METABOLISM","f":2.43,"l":0.4},{"p":"MALATE-ASPARTATE SHUTTLE","f":2.68,"l":0.42},{"p":"GLYCINE, SERINE AND THREONINE METABOLISM","f":2.2,"l":0.44},{"p":"KETONE BODY METABOLISM","f":3.92,"l":0.46},{"p":"TAURINE AND HYPOTAURINE METABOLISM","f":4.56,"l":0.48},{"p":"ARGININE AND PROLINE METABOLISM","f":2.89,"l":0.5},{"p":"ASPARTATE METABOLISM","f":2.27,"l":0.52},{"p":"NUCLEOTIDE SUGARS METABOLISM","f":2.46,"l":0.54},{"p":"STARCH AND SUCROSE METABOLISM","f":2.46,"l":0.56},{"p":"PHENYLALANINE AND TYROSINE METABOLISM","f":2.48,"l":0.58},{"p":"AMMONIA RECYCLING","f":2.27,"l":0.6},{"p":"INSULIN SIGNALLING","f":2.58,"l":0.62},{"p":"VALINE, LEUCINE AND ISOLEUCINE DEGRADATION","f":2.54,"l":0.64},{"p":"TYROSINE METABOLISM","f":2.95,"l":0.66},{"p":"UBIQUINONE BIOSYNTHESIS","f":3.89,"l":0.68},{"p":"ALANINE METABOLISM","f":2,"l":0.7},{"p":"NICOTINATE AND NICOTINAMIDE METABOLISM","f":1.89,"l":0.72},{"p":"STEROID BIOSYNTHESIS","f":3.59,"l":0.74},{"p":"PROPANOATE METABOLISM","f":2.4,"l":0.76},{"p":"RIBOFLAVIN METABOLISM","f":2.19,"l":0.78},{"p":"AMINO SUGAR METABOLISM","f":1.95,"l":0.8},{"p":"BUTYRATE METABOLISM","f":3.07,"l":0.82},{"p":"VITAMIN B6 METABOLISM","f":2.37,"l":0.84},{"p":"THIAMINE METABOLISM","f":2.29,"l":0.86},{"p":"LYSINE DEGRADATION","f":2.67,"l":0.88},{"p":"TRYPTOPHAN METABOLISM","f":1.74,"l":0.9},{"p":"SPHINGOLIPID METABOLISM","f":2.58,"l":0.92},{"p":"BETAINE METABOLISM","f":1.53,"l":0.94},{"p":"GALACTOSE METABOLISM","f":1.75,"l":0.96},{"p":"BILE ACID BIOSYNTHESIS","f":1.99,"l":1}
]},
"mark":{"type":"bar","stroke":"#6b6b6b","strokeWidth":0.8},
"encoding":{"y":{"field":"p","type":"nominal","sort":null,"scale":{"range":[32.6,299.4],"paddingInner":0.28,"paddingOuter":0.14},"axis":{"orient":"left","offset":-371,"title":null,"domain":false,"ticks":false,"labelPadding":5,"labelFontSize":5.2,"labelColor":"#222","labelOverlap":false,"labelLimit":300}},"x":{"field":"f","type":"quantitative","scale":{"domain":[0,4],"range":[375.5,470.5],"clamp":false},"axis":{"orient":"bottom","offset":-402,"title":"Fold Enrichment","titleFontSize":6,"titleFontWeight":"normal","titleColor":"#333","titlePadding":6,"values":[0,1,2,3,4],"labelFontSize":6,"labelColor":"#444","domainColor":"#444","tickColor":"#444","tickSize":4,"labelPadding":3,"format":"d"}},"color":{"field":"l","type":"quantitative","legend":null,"scale":{"domain":[0,0.2,0.4,0.6,0.76,1],"range":["#ff0000","#ff4000","#ff8000","#ffbf00","#ffff00","#fffff0"]}}}},
{"data":{"values":[{"l":0},{"l":0.025},{"l":0.05},{"l":0.075},{"l":0.1},{"l":0.125},{"l":0.15},{"l":0.175},{"l":0.2},{"l":0.225},{"l":0.25},{"l":0.275},{"l":0.3},{"l":0.325},{"l":0.35},{"l":0.375},{"l":0.4},{"l":0.425},{"l":0.45},{"l":0.475},{"l":0.5},{"l":0.525},{"l":0.55},{"l":0.575},{"l":0.6},{"l":0.625},{"l":0.65},{"l":0.675},{"l":0.7},{"l":0.725},{"l":0.75},{"l":0.775},{"l":0.8},{"l":0.825},{"l":0.85},{"l":0.875},{"l":0.9},{"l":0.925},{"l":0.95},{"l":0.975},{"l":1}]},
"mark":{"type":"rect"},
"encoding":{"x":{"datum":"p","type":"nominal","scale":{"range":[507,514],"paddingInner":0,"paddingOuter":0},"axis":null},"y":{"field":"l","type":"ordinal","scale":{"range":[108,224],"paddingInner":0,"paddingOuter":0},"axis":{"orient":"right","offset":-31,"title":"P value","titleAngle":0,"titleX":-14,"titleY":98,"titleAlign":"left","titleBaseline":"middle","titleFontSize":6.5,"titleFontWeight":"normal","titleColor":"#333","values":[0,0.5,1],"domain":false,"ticks":false,"labelPadding":7,"labelFontSize":6.5,"labelColor":"#444","labelExpr":"datum.value==0?'1e-03':datum.value==1?'1e+00':'5e-01'"}},"color":{"field":"l","type":"quantitative","legend":null,"scale":{"domain":[0,0.2,0.4,0.6,0.76,1],"range":["#ff0000","#ff4000","#ff8000","#ffbf00","#ffff00","#fffff0"]}}}},
{"data":{"values":[{"k":"P value"}]},"mark":{"type":"rect","fill":null,"fillOpacity":0,"stroke":"#555","strokeWidth":0.8},
"encoding":{"x":{"datum":"p","type":"nominal","scale":{"range":[507,514],"paddingInner":0,"paddingOuter":0},"axis":null},"y":{"datum":"p","type":"nominal","scale":{"range":[108,224],"paddingInner":0,"paddingOuter":0},"axis":null}}},
{"data":{"name":"heatC1"},"mark":{"type":"rect","stroke":"#000","strokeWidth":0.6},
"encoding":{"x":{"field":"c","type":"nominal","scale":{"domain":[1,2,3,4,5,6,"sig"],"range":[156,247],"paddingInner":0,"paddingOuter":0},"axis":null},"y":{"field":"m","type":"nominal","sort":null,"scale":{"range":[400,507],"paddingInner":0,"paddingOuter":0},"axis":{"orient":"left","offset":-155,"title":null,"domain":false,"ticks":false,"labelPadding":5,"labelFontSize":8.9,"labelColor":"#222","labelOverlap":false,"labelLimit":200}},"color":{"field":"v","type":"quantitative","legend":null,"scale":{"domain":[-3,-2.2,-1.4,-0.8,-0.2,0.4,1,1.7,2.4,3],"range":["#3c0096","#1f00d8","#6a60f0","#9090f8","#d0d0ff","#ffc0dc","#ff8090","#ff4a4a","#e81818","#c80000"]}}}},
{"data":{"values":[{"m":"glucose-6-phosphate","c":"sig","s":"*"},{"m":"fructose-6-phosphate","c":"sig","s":"*"},{"m":"fructose-1,6-bisphosphate","c":"sig","s":"*"},{"m":"pyruvate","c":"sig","s":"*"},{"m":"lactate","c":"sig","s":"*"}]},
"mark":{"type":"text","fontSize":10,"fontWeight":"bold","color":"#3a3ae0","dy":2},
"encoding":{"text":{"field":"s"},"x":{"field":"c","type":"nominal","scale":{"domain":[1,2,3,4,5,6,"sig"],"range":[156,247],"paddingInner":0,"paddingOuter":0},"axis":null},"y":{"field":"m","type":"nominal","scale":{"domain":["glucose-6-phosphate","fructose-6-phosphate","fructose-1,6-bisphosphate","dihydroxy-acetone-phosphate","D-glyceraldehdye-3-phosphate","1,3-diphopshateglycerate","2,3-Diphosphoglyceric acid","3-phosphoglycerate","phosphoenolpyruvate","pyruvate","lactate"],"range":[400,507],"paddingInner":0,"paddingOuter":0},"axis":null}}},
{"data":{"name":"heatC2"},"mark":{"type":"rect","stroke":"#000","strokeWidth":0.6},
"encoding":{"x":{"field":"c","type":"nominal","scale":{"domain":[1,2,3,4,5,6,"sig"],"range":[156,248],"paddingInner":0,"paddingOuter":0},"axis":null},"y":{"field":"m","type":"nominal","sort":null,"scale":{"range":[528.5,634.8],"paddingInner":0,"paddingOuter":0},"axis":{"orient":"left","offset":-156,"title":null,"domain":false,"ticks":false,"labelPadding":5,"labelFontSize":8.9,"labelColor":"#222","labelOverlap":false,"labelLimit":200}},"color":{"field":"v","type":"quantitative","legend":null,"scale":{"domain":[-3,-2.2,-1.4,-0.8,-0.2,0.4,1,1.7,2.4,3],"range":["#3c0096","#1f00d8","#6a60f0","#9090f8","#d0d0ff","#ffc0dc","#ff8090","#ff4a4a","#e81818","#c80000"]}}}},
{"data":{"values":[{"m":"glucose-6-phosphate","c":"sig","s":"*"},{"m":"fructose-6-phosphate","c":"sig","s":"*"},{"m":"fructose-1,6-bisphosphate","c":"sig","s":"*"},{"m":"pyruvate","c":"sig","s":"*"},{"m":"lactate","c":"sig","s":"*"}]},
"mark":{"type":"text","fontSize":10,"fontWeight":"bold","color":"#ff4422","dy":2},
"encoding":{"text":{"field":"s"},"x":{"field":"c","type":"nominal","scale":{"domain":[1,2,3,4,5,6,"sig"],"range":[156,248],"paddingInner":0,"paddingOuter":0},"axis":null},"y":{"field":"m","type":"nominal","scale":{"domain":["glucose-6-phosphate","fructose-6-phosphate","fructose-1,6-bisphosphate","dihydroxy-acetone-phosphate","D-glyceraldehyde-3-phosphate","1,3-diphopshateglycerate","2,3-Diphosphoglyceric acid","3-phosphoglycerate","phosphoenolpyruvate","pyruvate","lactate"],"range":[528.5,634.8],"paddingInner":0,"paddingOuter":0},"axis":null}}},
{"data":{"values":[{"t":"Control","a":1.54,"row":-0.92},{"t":"Starvation","a":4.54,"row":-0.92},{"t":"Normoxia","a":1.46,"row":11.8},{"t":"Hypoxia","a":4.6,"row":11.8}]},
"mark":{"type":"text","fontSize":7.8,"fontWeight":"bold","color":"#111","baseline":"middle"},
"encoding":{"text":{"field":"t"},"x":{"field":"a","type":"quantitative","scale":{"domain":[0,6],"range":[156,234]},"axis":null},"y":{"field":"row","type":"quantitative","scale":{"domain":[0,11],"range":[400,507]},"axis":null}}},
{"data":{"values":[{"t":"Glycolysis","a":-1.15,"row":-2.75}]},
"mark":{"type":"text","fontSize":9.5,"fontWeight":"bold","color":"#111","baseline":"middle"},
"encoding":{"text":{"field":"t"},"x":{"field":"a","type":"quantitative","scale":{"domain":[0,6],"range":[156,234]},"axis":null},"y":{"field":"row","type":"quantitative","scale":{"domain":[0,11],"range":[400,507]},"axis":null}}},
{"data":{"values":[{"g":"Control","a":0.1,"b":2.51,"row":-0.3},{"g":"Starvation","a":3.15,"b":6,"row":-0.3},{"g":"Normoxia","a":0.1,"b":2.92,"row":12.55},{"g":"Hypoxia","a":3.18,"b":5.75,"row":12.55}]},
"mark":{"type":"rule","color":"#333","strokeWidth":1},
"encoding":{"x":{"field":"a","type":"quantitative","scale":{"domain":[0,6],"range":[156,234]},"axis":null},"x2":{"field":"b"},"y":{"field":"row","type":"quantitative","scale":{"domain":[0,11],"range":[400,507]},"axis":null}}},
{"data":{"values":[{"a":-10,"b":7,"row":-1.7}]},
"mark":{"type":"rule","color":"#555","strokeWidth":1.6},
"encoding":{"x":{"field":"a","type":"quantitative","scale":{"domain":[0,6],"range":[156,234]},"axis":null},"x2":{"field":"b"},"y":{"field":"row","type":"quantitative","scale":{"domain":[0,11],"range":[400,507]},"axis":null}}},
{"data":{"values":[{"v":-3},{"v":-2.8},{"v":-2.6},{"v":-2.4},{"v":-2.2},{"v":-2},{"v":-1.8},{"v":-1.6},{"v":-1.4},{"v":-1.2},{"v":-1},{"v":-0.8},{"v":-0.6},{"v":-0.4},{"v":-0.2},{"v":0},{"v":0.2},{"v":0.4},{"v":0.6},{"v":0.8},{"v":1},{"v":1.2},{"v":1.4},{"v":1.6},{"v":1.8},{"v":2},{"v":2.2},{"v":2.4},{"v":2.6},{"v":2.8},{"v":3}]},
"mark":{"type":"rect"},
"encoding":{"x":{"field":"v","type":"ordinal","scale":{"range":[72.7,200],"paddingInner":0,"paddingOuter":0},"axis":{"orient":"bottom","offset":-35,"title":"Normalized levels","titleFontSize":8.5,"titleFontWeight":"bold","titleColor":"#111","titlePadding":-8,"values":[-3,3],"domain":false,"ticks":false,"labelAngle":0,"labelPadding":6,"labelFontSize":8.5,"labelFontWeight":"bold","labelColor":"#111","labelExpr":"format(datum.value,'.1f')"}},"y":{"datum":"l","type":"nominal","scale":{"range":[672,677],"paddingInner":0,"paddingOuter":0},"axis":null},"color":{"field":"v","type":"quantitative","legend":null,"scale":{"domain":[-3,-2.2,-1.4,-0.8,-0.2,0.4,1,1.7,2.4,3],"range":["#3c0096","#1f00d8","#6a60f0","#9090f8","#d0d0ff","#ffc0dc","#ff8090","#ff4a4a","#e81818","#c80000"]}}}},
{"data":{"values":[
{"n":"glucose","x":126,"y":16.3,"k":"none"},{"n":"glucose-6-phosphate","x":126.3,"y":38.6,"k":"up"},{"n":"fructose-6-phosphate","x":127.7,"y":62,"k":"up"},{"n":"fructose-1, 6-bisphosphate","x":127.7,"y":83.3,"k":"up"},{"n":"dihydroxyacetone phosphate","x":58.3,"y":116.7,"k":"up"},{"n":"3-phosphoglyceraldehyde","x":187.3,"y":116.7,"k":"up"},{"n":"1,3-bisphosphoglycerate","x":185.7,"y":141.3,"k":"up"},{"n":"3-phosphoglycerate","x":185.3,"y":165.7,"k":"up"},{"n":"2-phosphoglycerate","x":185.3,"y":189,"k":"none"},{"n":"phosphoenolpyruvate","x":185.3,"y":211.7,"k":"up"},{"n":"pyruvate","x":185.3,"y":233.3,"k":"up"},{"n":"lactate","x":52.7,"y":233.3,"k":"up"},{"n":"(acetyl-CoA)","x":182.3,"y":257.3,"k":"none"},{"n":"citrate","x":183.7,"y":287.7,"k":"tca"},{"n":"aconitate","x":197.3,"y":304.3,"k":"tca"},{"n":"isocitrate","x":193.7,"y":319,"k":"tca"},{"n":"α-ketoglutarate","x":208.3,"y":337,"k":"tca"},{"n":"(succinyl-CoA)","x":181,"y":353.3,"k":"tca"},{"n":"succinate","x":126.3,"y":346.3,"k":"up"},{"n":"fumarate","x":115.7,"y":329.7,"k":"tca"},{"n":"malate","x":115.3,"y":307.3,"k":"tca"},{"n":"(oxaloacetate)","x":130.3,"y":286,"k":"tca"}
]},
"mark":{"type":"text","fontSize":7.7,"baseline":"middle"},
"encoding":{"text":{"field":"n"},"x":{"field":"x","type":"quantitative","scale":{"domain":[0,265],"range":[280,545]},"axis":null},"y":{"field":"y","type":"quantitative","scale":{"domain":[0,362],"range":[350,712]},"axis":null},"color":{"field":"k","type":"nominal","legend":null,"scale":{"domain":["none","up","tca"],"range":["#222222","#ff2030","#3a30e0"]}}}},
{"data":{"values":[{"x":126,"y":23.3,"x2":126,"y2":32.7},{"x":126,"y":45,"x2":126,"y2":56.7},{"x":126,"y":67.7,"x2":126,"y2":77.3},{"x":97.3,"y":101.7,"x2":97.3,"y2":108.3},{"x":154.7,"y":101.7,"x2":154.7,"y2":108.7},{"x":113.3,"y":116.7,"x2":138.3,"y2":116.7},{"x":184.7,"y":124,"x2":184.7,"y2":134.3},{"x":184.7,"y":147.7,"x2":184.7,"y2":160},{"x":184.7,"y":171.7,"x2":184.7,"y2":181.7},{"x":184.7,"y":193.3,"x2":184.7,"y2":205.7},{"x":184.3,"y":219,"x2":184.3,"y2":228.7},{"x":156.7,"y":233,"x2":73.3,"y2":233},{"x":184.3,"y":239.3,"x2":184.3,"y2":250},{"x":185,"y":291.7,"x2":190,"y2":299.3},{"x":191.7,"y":309,"x2":192,"y2":314},{"x":191.7,"y":322.7,"x2":188.3,"y2":333.3},{"x":182.7,"y":340,"x2":175,"y2":348.3},{"x":156,"y":351.7,"x2":140,"y2":349.3},{"x":128.3,"y":341.7,"x2":121.7,"y2":333.3},{"x":117.3,"y":322.3,"x2":115.7,"y2":312.3},{"x":117.3,"y":301.7,"x2":124,"y2":291}]},
"mark":{"type":"rule","color":"#111","strokeWidth":0.9},
"encoding":{"x":{"field":"x","type":"quantitative","scale":{"domain":[0,265],"range":[280,545]},"axis":null},"x2":{"field":"x2"},"y":{"field":"y","type":"quantitative","scale":{"domain":[0,362],"range":[350,712]},"axis":null},"y2":{"field":"y2"}}},
{"data":{"values":[{"x":126,"y":88.3,"x2":126,"y2":101.7},{"x":97.3,"y":101.7,"x2":154.7,"y2":101.7}]},
"mark":{"type":"rule","color":"#555","strokeWidth":1.5},
"encoding":{"x":{"field":"x","type":"quantitative","scale":{"domain":[0,265],"range":[280,545]},"axis":null},"x2":{"field":"x2"},"y":{"field":"y","type":"quantitative","scale":{"domain":[0,362],"range":[350,712]},"axis":null},"y2":{"field":"y2"}}},
{"data":{"values":[{"x":126,"y":31.7,"deg":180},{"x":126,"y":46,"deg":0},{"x":126,"y":55.7,"deg":180},{"x":126,"y":76.3,"deg":180},{"x":97.3,"y":107.3,"deg":180},{"x":154.7,"y":107.7,"deg":180},{"x":114.3,"y":116.7,"deg":270},{"x":137.3,"y":116.7,"deg":90},{"x":184.7,"y":133.3,"deg":180},{"x":184.7,"y":148.7,"deg":0},{"x":184.7,"y":159,"deg":180},{"x":184.7,"y":172.7,"deg":0},{"x":184.7,"y":180.7,"deg":180},{"x":184.7,"y":194.3,"deg":0},{"x":184.7,"y":204.7,"deg":180},{"x":184.3,"y":227.7,"deg":180},{"x":74.3,"y":233,"deg":270},{"x":184.3,"y":249,"deg":180},{"x":172,"y":279,"deg":100},{"x":189.7,"y":298.7,"deg":150},{"x":192,"y":313.5,"deg":180},{"x":188.5,"y":332.5,"deg":195},{"x":175.5,"y":347.7,"deg":220},{"x":140.8,"y":349.4,"deg":280},{"x":122.2,"y":334,"deg":320},{"x":115.8,"y":313,"deg":350},{"x":123.6,"y":291.7,"deg":30}]},
"mark":{"type":"point","shape":"triangle-up","filled":true,"size":11,"color":"#000","opacity":1},
"encoding":{"x":{"field":"x","type":"quantitative","scale":{"domain":[0,265],"range":[280,545]},"axis":null},"y":{"field":"y","type":"quantitative","scale":{"domain":[0,362],"range":[350,712]},"axis":null},"angle":{"field":"deg","type":"quantitative","scale":null}}},
{"data":{"values":[{"id":"a","i":1,"x":155,"y":261.7},{"id":"a","i":2,"x":156,"y":270},{"id":"a","i":3,"x":160,"y":275},{"id":"a","i":4,"x":166.7,"y":278.3},{"id":"a","i":5,"x":172.7,"y":279},{"id":"b","i":1,"x":140,"y":278.3},{"id":"b","i":2,"x":156.7,"y":275},{"id":"b","i":3,"x":172.7,"y":279}]},
"mark":{"type":"line","color":"#111","strokeWidth":0.8,"interpolate":"cardinal"},
"encoding":{"detail":{"field":"id"},"order":{"field":"i"},"x":{"field":"x","type":"quantitative","scale":{"domain":[0,265],"range":[280,545]},"axis":null},"y":{"field":"y","type":"quantitative","scale":{"domain":[0,362],"range":[350,712]},"axis":null}}}
]}
